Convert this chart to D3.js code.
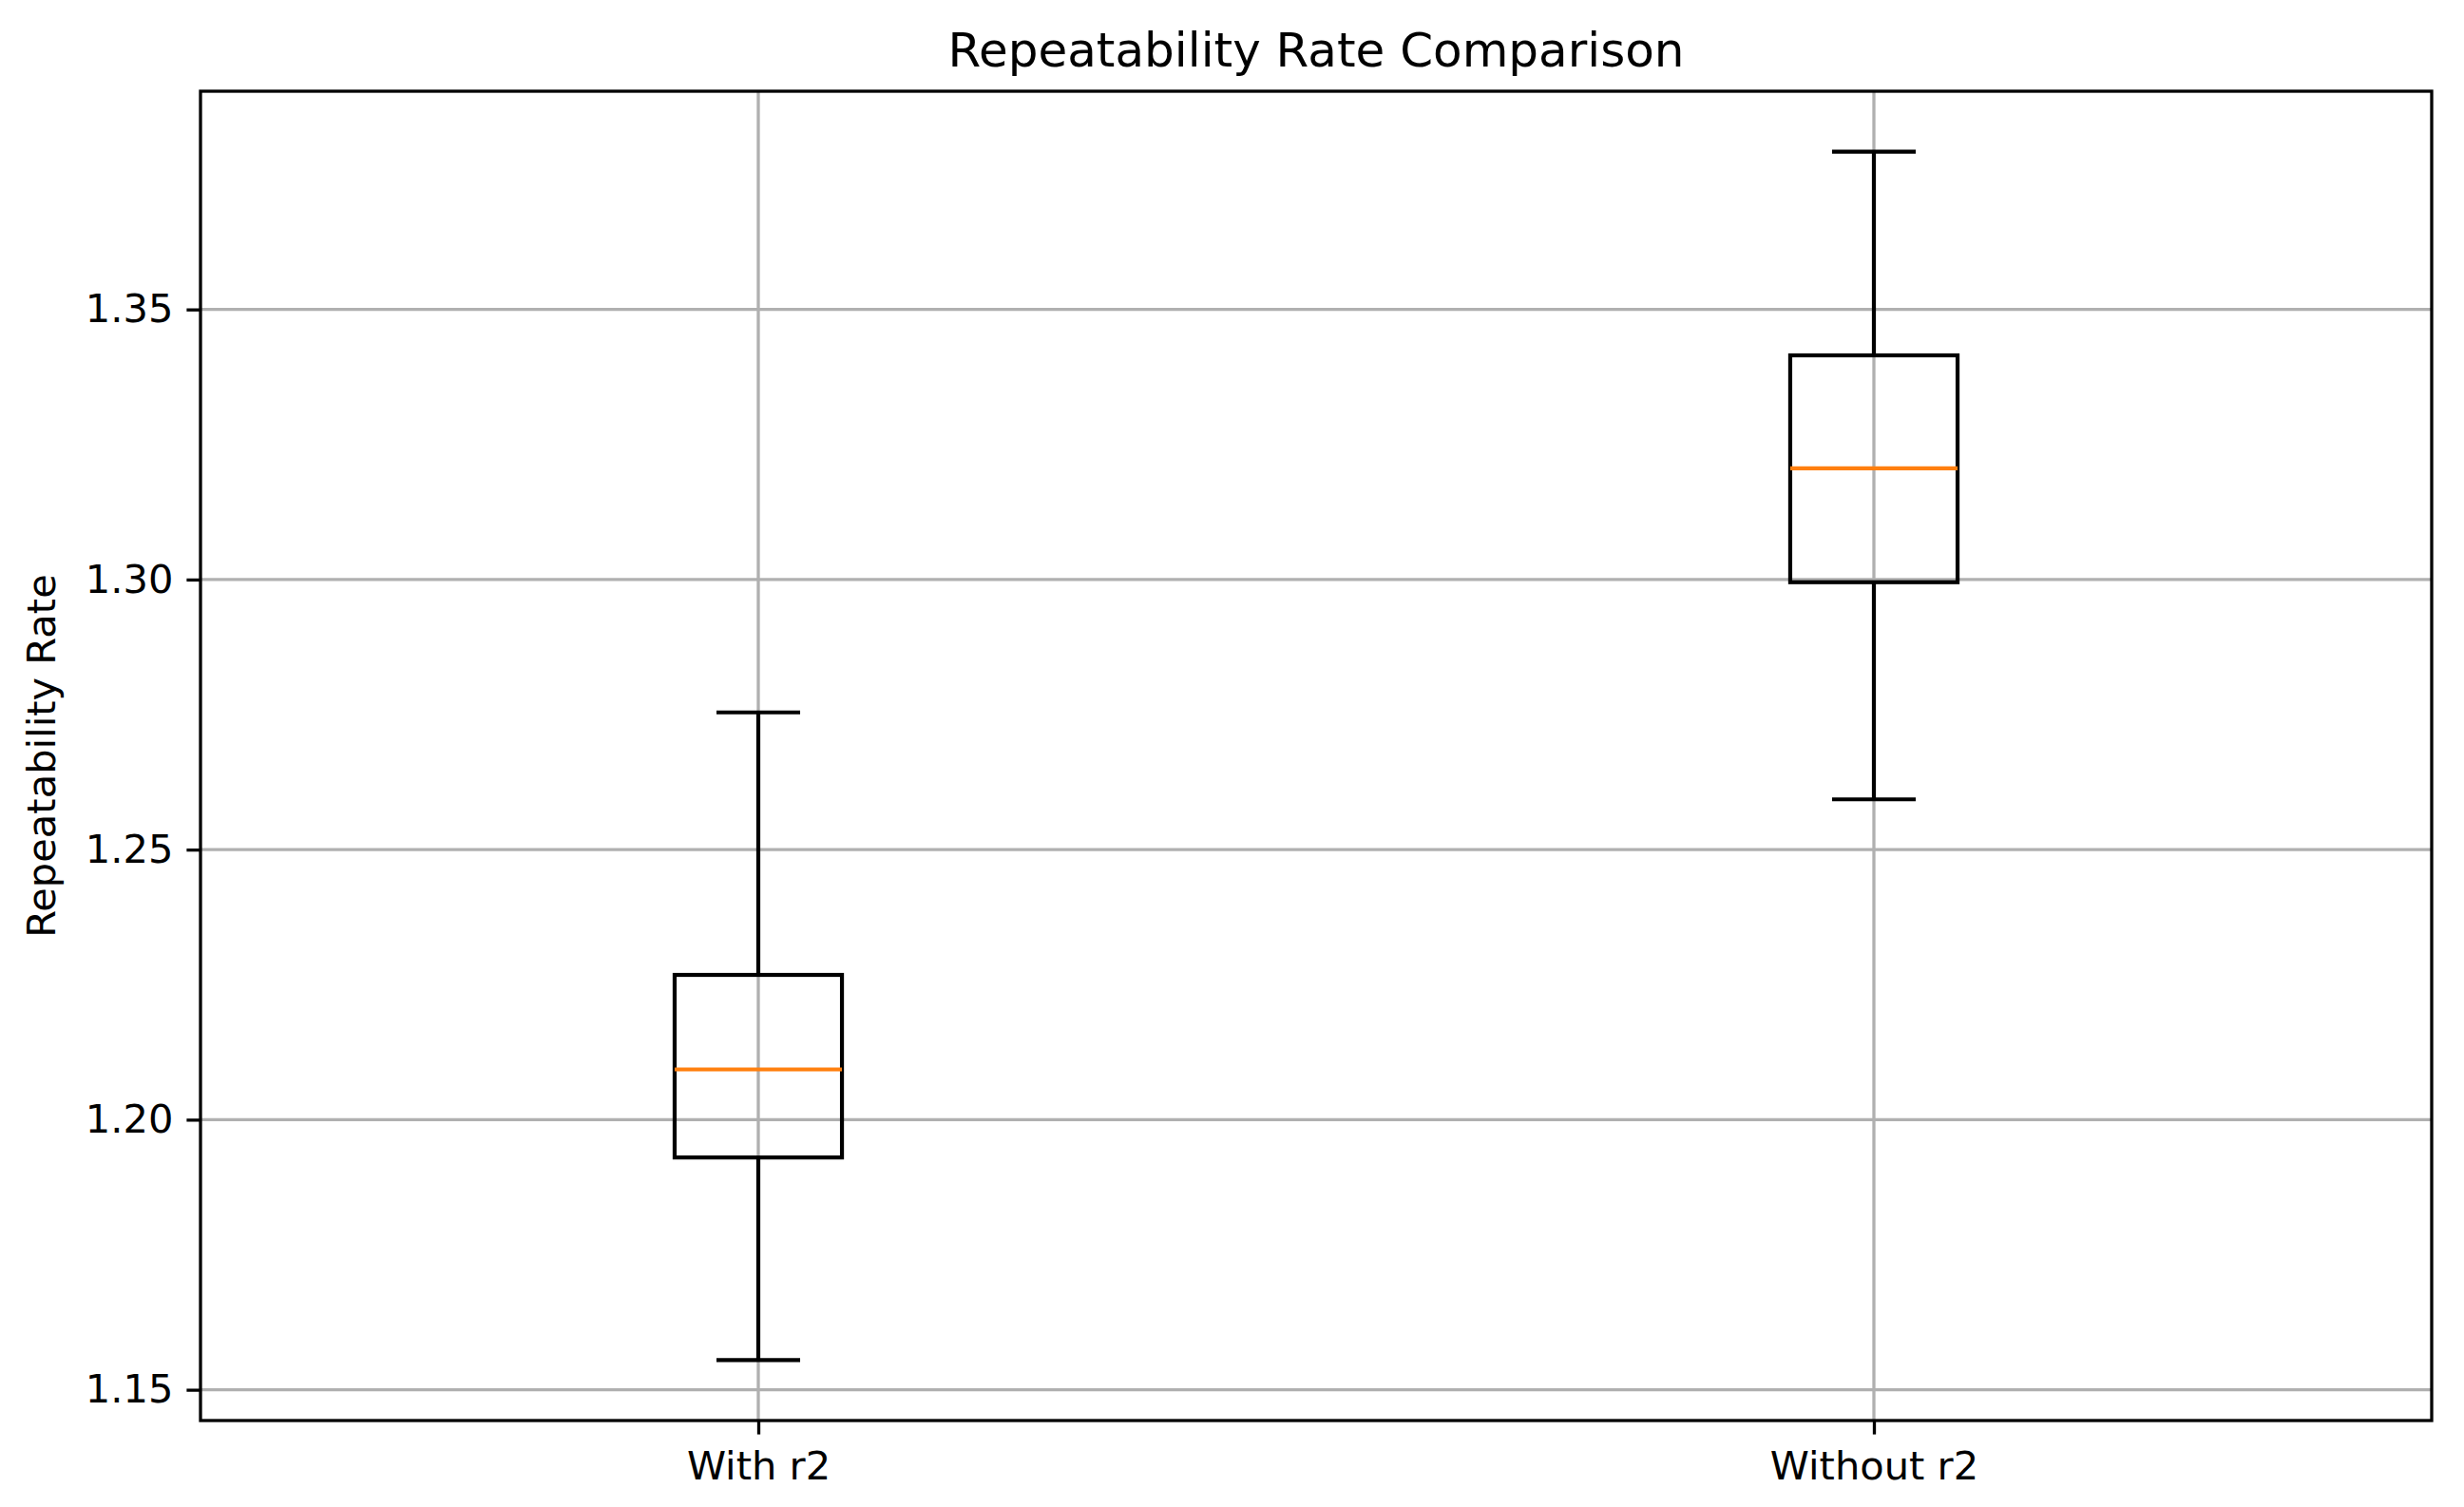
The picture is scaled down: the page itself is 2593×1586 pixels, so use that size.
<html>
<head>
    <title>Repeatability Rate Comparison</title>
    <script src="https://d3js.org/d3.v7.min.js"></script>
    <style>
        body { margin: 0; background: #fff; }
        text { font-family: "DejaVu Sans", sans-serif; fill: #000; }
    </style>
</head>
<body>
<script>

    // box plot stats
    var categories = ["With r2", "Without r2"];
    var whiskerLow = [1.1555, 1.2593];
    var q1 = [1.1930, 1.2995];
    var median = [1.2093, 1.3206];
    var q3 = [1.2268, 1.3415];
    var whiskerHigh = [1.2754, 1.3792];
    var yTicks = [1.15, 1.20, 1.25, 1.30, 1.35];

    var width = 2593,
        height = 1586;

    // plot area (note: "top" is a reserved window prop, so use axTop)
    var axLeft = 211, axRight = 2559, axTop = 96, axBottom = 1495;

    var svg = d3.select("body")
        .append("svg")
        .attr("width", width)
        .attr("height", height);

    svg.append("rect").attr("width", width).attr("height", height).attr("fill", "#fff");

    var x = d3.scaleLinear().domain([0.5, 2.5]).range([axLeft, axRight]);
    var y = d3.scaleLinear().domain([1.1443, 1.3904]).range([axBottom, axTop]);

    var boxW = 0.15, capW = 0.075;

    //grid
    var grid = svg.append("g");
    grid.selectAll(".hg")
        .data(yTicks)
        .enter()
        .append("line")
        .attr("x1", axLeft).attr("x2", axRight)
        .attr("y1", function (d) { return y(d); })
        .attr("y2", function (d) { return y(d); })
        .attr("stroke", "#b0b0b0")
        .attr("stroke-width", 3.3);
    grid.selectAll(".vg")
        .data(categories)
        .enter()
        .append("line")
        .attr("y1", axTop).attr("y2", axBottom)
        .attr("x1", function (d, i) { return x(i + 1); })
        .attr("x2", function (d, i) { return x(i + 1); })
        .attr("stroke", "#b0b0b0")
        .attr("stroke-width", 3.3);

    //axes
    var yAxis = d3.axisLeft(y)
        .tickValues(yTicks)
        .tickFormat(d3.format(".2f"))
        .tickSize(14.6)
        .tickPadding(14);
    var ya = svg.append("g").attr("transform", "translate(" + axLeft + ",0)").call(yAxis);

    var xAxis = d3.axisBottom(x)
        .tickValues([1, 2])
        .tickFormat(function (d) { return categories[d - 1]; })
        .tickSize(14.6)
        .tickPadding(18);
    var xa = svg.append("g").attr("transform", "translate(0," + axBottom + ")").call(xAxis);

    [ya, xa].forEach(function (a) {
        a.select(".domain").remove();
        a.selectAll(".tick line").attr("stroke", "#000").attr("stroke-width", 3.3);
        a.selectAll(".tick text").attr("font-size", 41.6).attr("font-family", "DejaVu Sans").attr("fill", "#000");
    });

    //boxes
    var boxes = svg.append("g").selectAll("g")
        .data(categories)
        .enter()
        .append("g");

    boxes.append("line")
        .attr("x1", function (d, i) { return x(i + 1); })
        .attr("x2", function (d, i) { return x(i + 1); })
        .attr("y1", function (d, i) { return y(whiskerLow[i]); })
        .attr("y2", function (d, i) { return y(q1[i]); });
    boxes.append("line")
        .attr("x1", function (d, i) { return x(i + 1); })
        .attr("x2", function (d, i) { return x(i + 1); })
        .attr("y1", function (d, i) { return y(q3[i]); })
        .attr("y2", function (d, i) { return y(whiskerHigh[i]); });
    boxes.append("line")
        .attr("x1", function (d, i) { return x(i + 1 - capW / 2); })
        .attr("x2", function (d, i) { return x(i + 1 + capW / 2); })
        .attr("y1", function (d, i) { return y(whiskerLow[i]); })
        .attr("y2", function (d, i) { return y(whiskerLow[i]); });
    boxes.append("line")
        .attr("x1", function (d, i) { return x(i + 1 - capW / 2); })
        .attr("x2", function (d, i) { return x(i + 1 + capW / 2); })
        .attr("y1", function (d, i) { return y(whiskerHigh[i]); })
        .attr("y2", function (d, i) { return y(whiskerHigh[i]); });
    boxes.append("rect")
        .attr("x", function (d, i) { return x(i + 1 - boxW / 2); })
        .attr("width", function (d, i) { return x(i + 1 + boxW / 2) - x(i + 1 - boxW / 2); })
        .attr("y", function (d, i) { return y(q3[i]); })
        .attr("height", function (d, i) { return y(q1[i]) - y(q3[i]); })
        .attr("fill", "none");
    boxes.selectAll("line, rect")
        .attr("stroke", "#000")
        .attr("stroke-width", 4.2);
    boxes.append("line")
        .attr("x1", function (d, i) { return x(i + 1 - boxW / 2); })
        .attr("x2", function (d, i) { return x(i + 1 + boxW / 2); })
        .attr("y1", function (d, i) { return y(median[i]); })
        .attr("y2", function (d, i) { return y(median[i]); })
        .attr("stroke", "#ff7f0e")
        .attr("stroke-width", 4.2);

    //frame
    svg.append("rect")
        .attr("x", axLeft).attr("y", axTop)
        .attr("width", axRight - axLeft).attr("height", axBottom - axTop)
        .attr("fill", "none")
        .attr("stroke", "#000")
        .attr("stroke-width", 3.3);

    //labels
    svg.append("text")
        .attr("x", (axLeft + axRight) / 2)
        .attr("y", 70)
        .attr("text-anchor", "middle")
        .attr("font-size", 50)
        .text("Repeatability Rate Comparison");

    svg.append("text")
        .attr("transform", "translate(58," + (axTop + axBottom) / 2 + ") rotate(-90)")
        .attr("text-anchor", "middle")
        .attr("font-size", 41.6)
        .text("Repeatability Rate");

</script>
</body>
</html>
